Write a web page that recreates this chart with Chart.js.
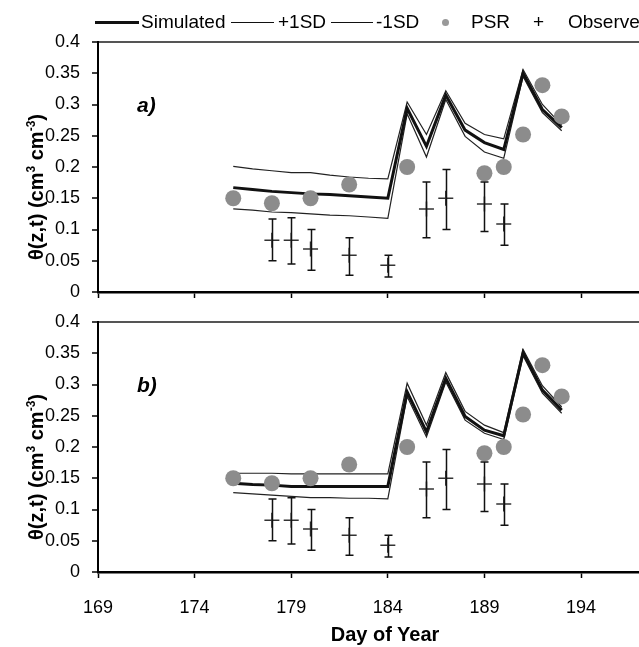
<!DOCTYPE html>
<html>
<head>
<meta charset="utf-8">
<script src="https://cdn.jsdelivr.net/npm/chart.js@4.4.1/dist/chart.umd.min.js"></script>
<style>
  body { margin: 0; background: #fff; }
  #wrap { position: relative; width: 639px; height: 647px; overflow: hidden; font-family: "Liberation Sans", Arial, sans-serif; color: #000; }
  canvas { position: absolute; left: 0; }
  #ca { top: 0; }
  #cb { top: 300px; }
  .lg { position: absolute; top: 11px; line-height: 22px; font-size: 19px; white-space: nowrap; }
  .ln { position: absolute; background: #111; }
  .ytitle { position: absolute; font-weight: bold; font-size: 20px; line-height: 24px; white-space: nowrap; transform: translate(-50%, -50%) rotate(-90deg); }
  .ytitle sup { font-size: 12px; vertical-align: 8px; line-height: 0; }
  .panel { position: absolute; font-weight: bold; font-style: italic; font-size: 21px; line-height: 24px; }
  #xtitle { position: absolute; left: 385px; top: 634px; transform: translate(-50%, -50%); font-weight: bold; font-size: 20px; white-space: nowrap; }
</style>
</head>
<body>
<div id="wrap">
  <canvas id="ca" width="639" height="310"></canvas>
  <canvas id="cb" width="639" height="347"></canvas>

  <!-- legend -->
  <div class="ln" style="left:95px; top:21px; width:44px; height:3px;"></div>
  <div class="lg" style="left:141px;">Simulated</div>
  <div class="ln" style="left:231px; top:22px; width:43px; height:1px;"></div>
  <div class="lg" style="left:278px;">+1SD</div>
  <div class="ln" style="left:331px; top:22px; width:42px; height:1px;"></div>
  <div class="lg" style="left:376px;">-1SD</div>
  <div style="position:absolute; left:442px; top:19px; width:7px; height:7px; border-radius:50%; background:#999;"></div>
  <div class="lg" style="left:471px;">PSR</div>
  <div class="lg" style="left:533px;">+</div>
  <div class="lg" style="left:568px;">Observed</div>

  <div class="panel" style="left:137px; top:93px;">a)</div>
  <div class="panel" style="left:137px; top:373px;">b)</div>

  <div class="ytitle" style="left:36px; top:187px;">θ(z,t) (cm<sup>3</sup> cm<sup>-3</sup>)</div>
  <div class="ytitle" style="left:36px; top:467px;">θ(z,t) (cm<sup>3</sup> cm<sup>-3</sup>)</div>
  <div id="xtitle">Day of Year</div>
</div>

<script>
const xTicks = [169, 174, 179, 184, 189, 194];
const yTicks = [0, 0.05, 0.1, 0.15, 0.2, 0.25, 0.3, 0.35, 0.4];

const simDays = [176, 177, 178, 179, 180, 181, 182, 183, 184, 185, 186, 187, 188, 189, 190, 191, 192, 193];

// panel a
const simA   = [0.167, 0.164, 0.161, 0.159, 0.157, 0.156, 0.154, 0.152, 0.150, 0.294, 0.233, 0.315, 0.259, 0.239, 0.228, 0.350, 0.292, 0.263];
const plusA  = [0.201, 0.197, 0.194, 0.191, 0.191, 0.187, 0.184, 0.182, 0.181, 0.304, 0.252, 0.322, 0.270, 0.252, 0.245, 0.356, 0.300, 0.267];
const minusA = [0.133, 0.131, 0.128, 0.127, 0.125, 0.123, 0.122, 0.120, 0.118, 0.285, 0.216, 0.308, 0.249, 0.224, 0.214, 0.345, 0.287, 0.258];

// panel b
const simB   = [0.142, 0.140, 0.139, 0.137, 0.137, 0.137, 0.137, 0.137, 0.137, 0.288, 0.224, 0.310, 0.249, 0.227, 0.218, 0.351, 0.291, 0.259];
const plusB  = [0.158, 0.158, 0.158, 0.157, 0.157, 0.157, 0.157, 0.157, 0.157, 0.302, 0.235, 0.319, 0.257, 0.235, 0.223, 0.356, 0.298, 0.264];
const minusB = [0.127, 0.125, 0.123, 0.121, 0.119, 0.119, 0.118, 0.118, 0.117, 0.281, 0.216, 0.304, 0.243, 0.222, 0.212, 0.346, 0.286, 0.254];

const psrDays = [176, 178, 180, 182, 185, 189, 190, 191, 192, 193];
const psrVals = [0.15, 0.142, 0.15, 0.172, 0.2, 0.19, 0.2, 0.252, 0.331, 0.281];

const obsDays = [178, 179, 180, 182, 184, 186, 187, 189, 190];
const obsVals = [0.083, 0.083, 0.069, 0.059, 0.043, 0.133, 0.15, 0.141, 0.109];
const obsHigh = [0.117, 0.119, 0.1, 0.087, 0.059, 0.176, 0.196, 0.176, 0.141];
const obsLow  = [0.05, 0.045, 0.035, 0.027, 0.024, 0.087, 0.1, 0.097, 0.075];

const fontFam = '"Liberation Sans", Arial, sans-serif';

function pts(xs, ys) {
    return xs.map((d, i) => ({ x: d, y: ys[i] }));
}

// vertical error bars with caps for the observed points
const errorBars = {
    id: 'errorBars',
    afterDatasetsDraw(chart) {
        const ctx = chart.ctx;
        const x = chart.scales.x, y = chart.scales.y;
        ctx.save();
        ctx.strokeStyle = '#111';
        ctx.lineWidth = 1.5;
        for (let i = 0; i < obsDays.length; i++) {
            const px = Math.round(x.getPixelForValue(obsDays[i])) + 0.5;
            const hi = y.getPixelForValue(obsHigh[i]);
            const lo = y.getPixelForValue(obsLow[i]);
            ctx.beginPath();
            ctx.moveTo(px, hi); ctx.lineTo(px, lo);
            ctx.moveTo(px - 4, hi); ctx.lineTo(px + 4, hi);
            ctx.moveTo(px - 4, lo); ctx.lineTo(px + 4, lo);
            ctx.stroke();
        }
        ctx.restore();
    }
};

function makePanel(id, sim, plus, minus, padTop, xHeight, showX) {
    return new Chart(document.getElementById(id), {
        type: 'line',
        data: {
            datasets: [
                {
                    label: 'PSR',
                    data: pts(psrDays, psrVals),
                    showLine: false,
                    pointStyle: 'circle',
                    pointRadius: 8,
                    backgroundColor: '#8c8c8c',
                    borderWidth: 0,
                    order: 0,
                },
                {
                    label: 'Observed',
                    data: pts(obsDays, obsVals),
                    showLine: false,
                    pointStyle: 'cross',
                    pointRadius: 7.5,
                    borderColor: '#333',
                    pointBorderWidth: 1.5,
                    order: 1,
                },
                {
                    label: 'Simulated',
                    data: pts(simDays, sim),
                    borderColor: '#111',
                    borderWidth: 3,
                    pointRadius: 0,
                    tension: 0,
                    order: 2,
                },
                {
                    label: '+1SD',
                    data: pts(simDays, plus),
                    borderColor: '#222',
                    borderWidth: 1.2,
                    pointRadius: 0,
                    tension: 0,
                    order: 3,
                },
                {
                    label: '-1SD',
                    data: pts(simDays, minus),
                    borderColor: '#222',
                    borderWidth: 1.2,
                    pointRadius: 0,
                    tension: 0,
                    order: 4,
                },
            ],
        },
        options: {
            responsive: false,
            animation: false,
            layout: { autoPadding: false, padding: { top: padTop, left: 0, right: 0, bottom: 0 } },
            plugins: { legend: { display: false }, tooltip: { enabled: false } },
            scales: {
                x: {
                    type: 'linear',
                    min: 169,
                    max: 197,
                    afterBuildTicks: function (s) { s.ticks = xTicks.map(v => ({ value: v })); },
                    afterFit: function (s) {
                        s.height = xHeight;
                        s.paddingLeft = 0;
                        s.paddingRight = 0;
                    },
                    border: { color: '#000', width: 2.5 },
                    grid: { drawOnChartArea: false, drawTicks: true, tickLength: 6, tickColor: '#000', tickWidth: 1.5 },
                    ticks: {
                        font: { size: 18, family: fontFam },
                        color: '#000',
                        padding: 19,
                        maxRotation: 0,
                        callback: function (v) { return showX ? String(v) : ''; },
                    },
                },
                y: {
                    min: 0,
                    max: 0.4,
                    afterBuildTicks: function (s) { s.ticks = yTicks.map(v => ({ value: v })); },
                    afterFit: function (s) {
                        s.width = 98;
                        s.paddingTop = 0;
                        s.paddingBottom = 0;
                    },
                    border: { color: '#000', width: 2 },
                    grid: {
                        color: function (c) { return c.tick && c.tick.value === 0.4 ? '#555' : 'rgba(0,0,0,0)'; },
                        lineWidth: 2,
                        drawTicks: true,
                        tickLength: 6,
                        tickColor: '#000',
                        tickWidth: 1.5,
                    },
                    ticks: {
                        font: { size: 18, family: fontFam },
                        color: '#000',
                        padding: 12,
                        callback: function (v) { return String(v); },
                    },
                },
            },
        },
        plugins: [errorBars],
    });
}

const chA = makePanel('ca', simA, plusA, minusA, 42, 18, false);
const chB = makePanel('cb', simB, plusB, minusB, 22, 75, true);
</script>
</body>
</html>
